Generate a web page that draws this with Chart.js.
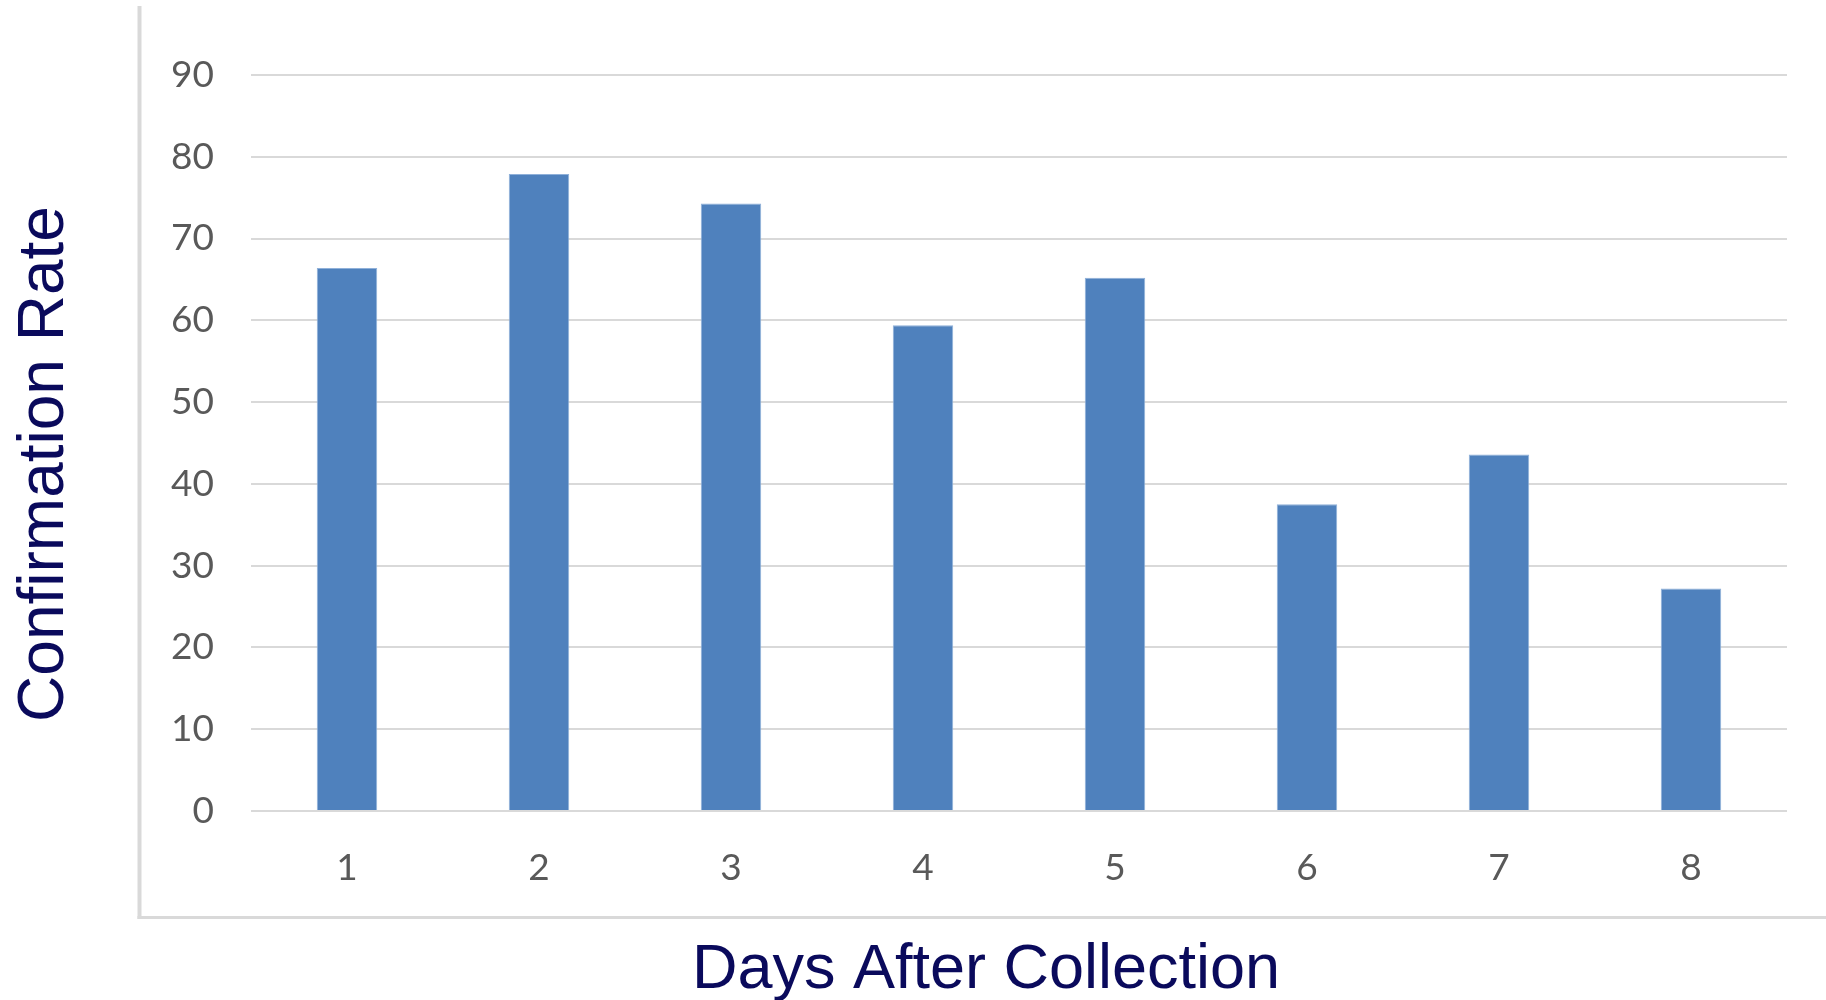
<!DOCTYPE html>
<html lang="en">
<head>
  <meta charset="UTF-8">
  <title>Confirmation Rate</title>
  <script src="https://cdn.jsdelivr.net/npm/chart.js"></script>
  <style>
    * { box-sizing: border-box; }
    html, body { margin: 0; padding: 0; background: #fff; }
    .wrap { position: relative; width: 1826px; height: 1000px; }
  </style>
</head>
<body>
  <div class="wrap"><canvas id="chart" width="1826" height="1000"></canvas></div>

  <script>
    // data
    const days = ['1', '2', '3', '4', '5', '6', '7', '8'];
    const rates = [66.4, 77.9, 74.3, 59.4, 65.2, 37.5, 43.6, 27.2];
    const yTicks = [0, 10, 20, 30, 40, 50, 60, 70, 80, 90];
    const xTitle = 'Days After Collection';
    const yTitle = 'Confirmation Rate';

    const titleColor = '#0a0a5c';

    // frame lines and the two axis titles
    const decor = {
      id: 'decor',
      beforeDraw(chart) {
        const c = chart.ctx;
        c.save();
        c.strokeStyle = '#d9d9d9';
        c.lineWidth = 4;
        c.beginPath();
        c.moveTo(139.5, 6);
        c.lineTo(139.5, 919);
        c.stroke();
        c.lineWidth = 3;
        c.beginPath();
        c.moveTo(137.5, 917.5);
        c.lineTo(1826, 917.5);
        c.stroke();
        c.restore();
      },
      afterDraw(chart) {
        const c = chart.ctx;
        c.save();
        c.fillStyle = titleColor;
        c.textAlign = 'center';
        c.textBaseline = 'alphabetic';
        c.font = '63px "Liberation Sans", Arial, sans-serif';
        c.fillText(xTitle, 986, 988);
        c.translate(63, 464);
        c.rotate(-Math.PI / 2);
        c.font = '64px "Liberation Sans", Arial, sans-serif';
        c.fillText(yTitle, 0, 0);
        c.restore();
      }
    };

    new Chart(document.getElementById('chart'), {
      type: 'bar',
      data: {
        labels: days,
        datasets: [{
          data: rates,
          backgroundColor: '#4f81bd',
          borderColor: '#8fb0d9',
          borderWidth: 1,
          barPercentage: 0.315,
          categoryPercentage: 1
        }]
      },
      options: {
        responsive: false,
        animation: false,
        layout: { padding: { top: 75, right: 39, bottom: 0, left: 0 } },
        plugins: { legend: { display: false }, tooltip: { enabled: false } },
        scales: {
          x: {
            grid: { display: false },
            border: { display: false },
            ticks: { color: '#595959', padding: 27, font: { family: 'Lato', size: 37 } },
            afterFit: s => { s.height = 189; }
          },
          y: {
            min: 0,
            max: 90,
            afterBuildTicks: s => { s.ticks = yTicks.map(v => ({ value: v })); },
            grid: { color: '#d9d9d9', lineWidth: 2, drawTicks: false },
            border: { display: false },
            ticks: { color: '#595959', padding: 37, font: { family: 'Lato', size: 37 } },
            afterFit: s => { s.width = 251; }
          }
        }
      },
      plugins: [decor]
    });
  </script>
</body>
</html>
